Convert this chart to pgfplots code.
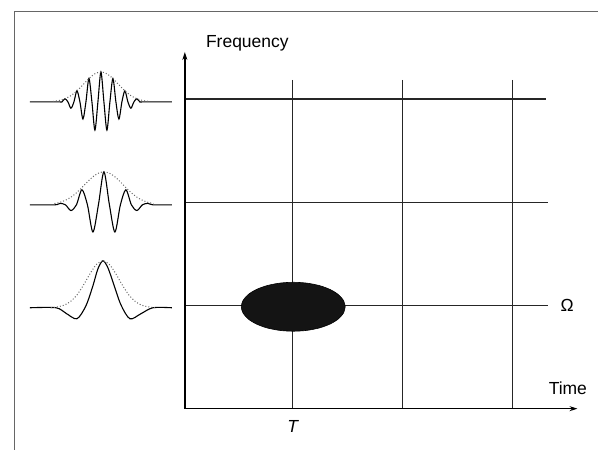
\documentclass[border=0pt]{standalone}
\usepackage{pgfplots}
\pgfplotsset{compat=1.18}
\usetikzlibrary{arrows.meta}
\usepackage{fontspec}
\setmainfont{Liberation Sans}

\tikzset{
  gridln/.style={black!85, line width=1.3pt},
  wave/.style={black, line width=1.1pt, smooth},
  env/.style={black!60, line width=1pt, dotted, smooth},
  lbl/.style={font=\fontsize{17.5}{21}\selectfont, inner sep=0pt},
}

\begin{document}
\begin{tikzpicture}
\begin{axis}[
  scale only axis, width=598pt, height=450pt,
  xmin=0, xmax=598, ymin=0, ymax=450, y dir=reverse,
  hide axis, clip=false,
  every axis plot/.append style={no markers},
]
% page extent
\addplot[draw=none] coordinates {(0,0) (598,450)};
% frame of the scan
\addplot[black!60, line width=1pt] coordinates {(15,450) (15,12) (598,12)};

% time-frequency grid
\addplot[gridln] coordinates {(185,99) (546,99)};
\addplot[gridln] coordinates {(185,203) (548,203)};
\addplot[gridln] coordinates {(185,306) (548,306)};
\addplot[gridln] coordinates {(293,80) (293,409)};
\addplot[gridln] coordinates {(403,80) (403,409)};
\addplot[gridln] coordinates {(513,80) (513,409)};

% axes
\addplot[black, line width=1.4pt, -{Stealth[length=8pt,width=5pt]}] coordinates {(185,409) (185,52)};
\addplot[black, line width=1.4pt, -{Stealth[length=8pt,width=5pt]}] coordinates {(185,409) (578,409)};

% time-frequency atom
\addplot[fill=black!92, draw=black, line width=0.6pt, smooth] coordinates {
 (345.5,307) (343.73,313.34) (338.53,319.25) (330.27,324.32) (319.5,328.22) (306.96,330.66)
 (293.5,331.5) (280.04,330.66) (267.5,328.22) (256.73,324.32) (248.47,319.25) (243.27,313.34)
 (241.5,307) (243.27,300.66) (248.47,294.75) (256.73,289.68) (267.5,285.78) (280.04,283.34)
 (293.5,282.5) (306.96,283.34) (319.5,285.78) (330.27,289.68) (338.53,294.75) (343.73,300.66)
 (345.5,307)} -- cycle;

% wavelet, high frequency
\addplot[wave] coordinates {
 (30,102) (59,102) (62,102) (65,98.8) (68,102) (71,108.3) (74,102) (77,90.9) (80,102)
 (83,119.1) (86,102) (89,78.6) (92,102) (95,130.2) (98,102) (101,72) (104,102) (107,130.2)
 (110,102) (113,78.6) (116,102) (119,119.1) (122,102) (125,90.9) (128,102) (131,108.3)
 (134,102) (137,98.8) (140,102) (143,102) (172,102)};
\addplot[env] coordinates {
 (53,101.5) (59,100.6) (65,98.8) (71,95.7) (77,90.9) (83,84.9) (89,78.6) (95,73.8) (101,72)
 (107,73.8) (113,78.6) (119,84.9) (125,90.9) (131,95.7) (137,98.8) (143,100.6) (149,101.5)};

% wavelet, middle frequency
\addplot[wave] coordinates {
 (30,205) (55,205) (60,203.5) (65.5,205) (71,210.7) (76.5,205) (82,189.9) (87.5,205)
 (93,232.2) (98.5,205) (104,172) (109.5,205) (115,232.2) (120.5,205) (126,189.9)
 (131.5,205) (137,210.7) (142.5,205) (148,203.5) (153,205) (172,205)};
\addplot[env] coordinates {
 (54.5,203.7) (60,202.5) (65.5,200.4) (71,197.3) (76.5,193) (82,187.7) (87.5,182) (93,176.9)
 (98.5,173.3) (104,172) (109.5,173.3) (115,176.9) (120.5,182) (126,187.7) (131.5,193)
 (137,197.3) (142.5,200.4) (148,202.5) (153.5,203.7)};

% wavelet, low frequency
\addplot[wave] coordinates {
 (30,308) (56,308) (66,313.5) (77,319) (86,306) (93,286) (98,269) (103,261) (108,268)
 (114,285) (121,305) (130,319) (141,314) (153,308) (172,308)};
\addplot[env] coordinates {
 (51,308) (57.5,307.1) (64,305.5) (70.5,301.8) (77,295.2) (83.5,285.4) (90,274.1) (96.5,264.7)
 (103,261) (109.5,264.7) (116,274.1) (122.5,285.4) (129,295.2) (135.5,301.8) (142,305.5)
 (148.5,307.1) (155,308)};

% labels
\node[lbl, anchor=base west] at (axis cs:206,48) {Frequency};
\node[lbl, anchor=base west] at (axis cs:549,395) {Time};
\node[lbl, anchor=base west] at (axis cs:561,312) {Ω};
\node[lbl, anchor=base] at (axis cs:293,433) {\itshape T};
\end{axis}
\end{tikzpicture}
\end{document}
